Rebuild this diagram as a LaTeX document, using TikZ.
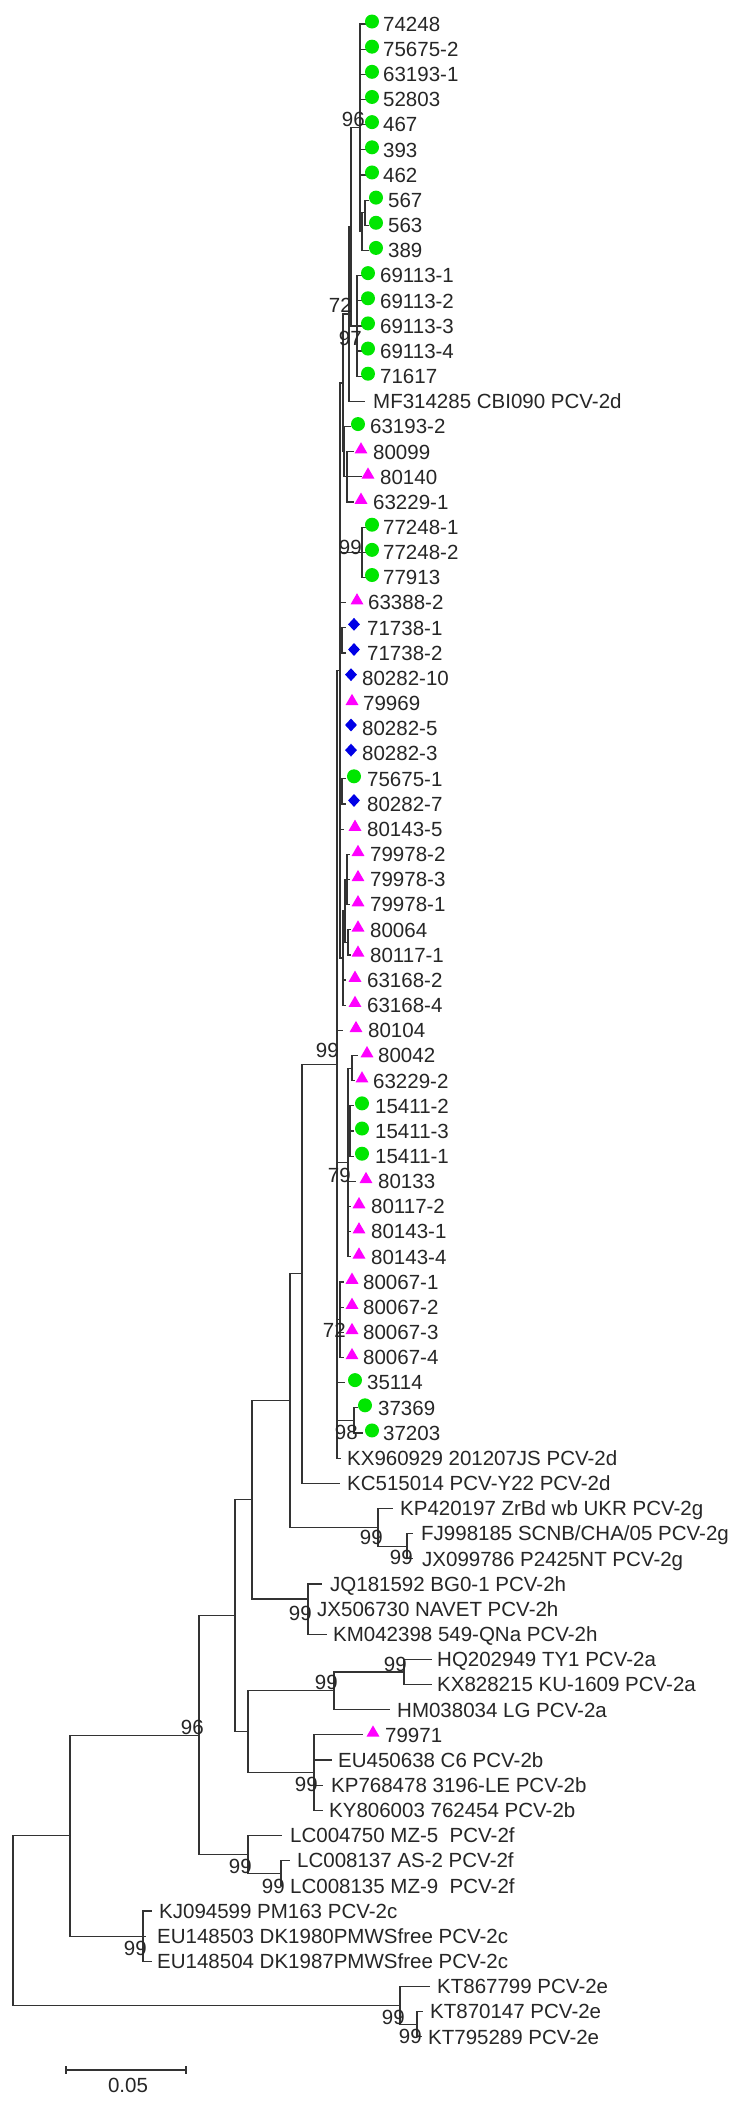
\documentclass[tikz,border=0pt]{standalone}
\usepackage{fontspec}
\setmainfont{Liberation Sans}
\usetikzlibrary{shapes.geometric}
\definecolor{leafgreen}{RGB}{0,230,0}
\definecolor{leafpink}{RGB}{255,0,255}
\definecolor{leafblue}{RGB}{0,0,230}
\tikzset{
  br/.style={line width=1.2pt, black!80},
  lbl/.style={anchor=base west, inner sep=0pt, yshift=-7.3pt, text=black!85},
  bs/.style={anchor=base east, inner sep=0pt, yshift=-7.3pt, text=black!85},
  dot/.style={circle, fill=leafgreen, inner sep=0pt, minimum size=14pt, yshift=2.5pt},
  tri/.style={regular polygon, regular polygon sides=3, fill=leafpink, inner sep=0pt, minimum size=15pt, yshift=2pt},
  dia/.style={diamond, fill=leafblue, inner sep=0pt, minimum width=12pt, minimum height=13pt, yshift=3.5pt}
}
\begin{document}
\begin{tikzpicture}[x=1pt, y=-25.16pt, font=\fontsize{20.5}{24}\selectfont]
 \path[fill=white] (0,-0.954) rectangle (741,82.95);
 \useasboundingbox (0,-0.954) rectangle (741,82.95);

 % inner nodes
 \coordinate (n96) at (360,4.125);
 \coordinate (s1) at (365,7.5);
 \coordinate (s2) at (362,8.25);
 \coordinate (n69) at (357,12);
 \coordinate (nP) at (351,8.06);
 \coordinate (nR) at (349,11.53);
 \coordinate (nU) at (347,18);
 \coordinate (nT) at (344,17);
 \coordinate (nS) at (343,14.27);
 \coordinate (n77) at (362,21);
 \coordinate (n717) at (342,24.5);
 \coordinate (n756) at (342,30.5);
 \coordinate (n799) at (347,34);
 \coordinate (n800) at (348,36.5);
 \coordinate (nW) at (345,35.25);
 \coordinate (nV) at (343,37.125);
 \coordinate (nD1) at (340,25.7);
 \coordinate (nF1) at (352,41.5);
 \coordinate (nF2) at (350,44);
 \coordinate (nE) at (348,45.25);
 \coordinate (nH) at (340,51.5);
 \coordinate (n37) at (354,55.5);
 \coordinate (nD0) at (337,41.35);
 \coordinate (nA) at (302,49.67);
 \coordinate (n2gi) at (407,60.5);
 \coordinate (n2g) at (378,59.75);
 \coordinate (nB) at (290,54.71);
 \coordinate (n2h) at (308,62.6);
 \coordinate (nC) at (252,58.66);
 \coordinate (n2ai) at (404,65.5);
 \coordinate (n2a) at (334,66.25);
 \coordinate (n2b) at (314,69.5);
 \coordinate (nAB) at (248,67.875);
 \coordinate (nG) at (235,63.27);
 \coordinate (n2fi) at (281,73.5);
 \coordinate (n2f) at (248,72.75);
 \coordinate (n96b) at (199,68.01);
 \coordinate (n2c) at (143,76);
 \coordinate (n70) at (70,72);
 \coordinate (n2ei) at (417,79.5);
 \coordinate (n2e) at (400,78.75);
 \coordinate (root) at (13,75.4);

 % inner branches
 \draw[br] (n96) |- (s2); \draw[br] (s2) |- (s1);
 \draw[br] (nP) |- (n96); \draw[br] (nP) |- (n69);
 \draw[br] (nR) |- (nP);
 \draw[br] (nS) |- (nR); \draw[br] (nS) |- (nT); \draw[br] (nT) |- (nU);
 \draw[br] (nD1) |- (nS); \draw[br] (nD1) |- (n77); \draw[br] (nD1) |- (n717);
 \draw[br] (nD1) |- (n756); \draw[br] (nD1) |- (nV);
 \draw[br] (nV) |- (nW); \draw[br] (nW) |- (n799); \draw[br] (nW) |- (n800);
 \draw[br] (nD0) |- (nD1); \draw[br] (nD0) |- (nE); \draw[br] (nD0) |- (nH); \draw[br] (nD0) |- (n37);
 \draw[br] (nE) |- (nF1); \draw[br] (nE) |- (nF2);
 \draw[br] (nA) |- (nD0); \draw[br] (nB) |- (nA); \draw[br] (nB) |- (n2g); \draw[br] (n2g) |- (n2gi);
 \draw[br] (nC) |- (nB); \draw[br] (nC) |- (n2h);
 \draw[br] (nG) |- (nC); \draw[br] (nG) |- (nAB);
 \draw[br] (nAB) |- (n2a); \draw[br] (nAB) |- (n2b); \draw[br] (n2a) |- (n2ai);
 \draw[br] (n96b) |- (nG); \draw[br] (n96b) |- (n2f); \draw[br] (n2f) |- (n2fi);
 \draw[br] (n70) |- (n96b); \draw[br] (n70) |- (n2c);
 \draw[br] (root) |- (n70); \draw[br] (root) |- (n2e); \draw[br] (n2e) |- (n2ei);

 % leaves
 \coordinate (t0) at (366,0); \draw[br] (n96) |- (t0); \node[dot] (m0) at (372,0) {}; \node[lbl] (l0) at (383,0) {74248};
 \coordinate (t1) at (366,1); \draw[br] (n96) |- (t1); \node[dot] (m1) at (372,1) {}; \node[lbl] (l1) at (383,1) {75675-2};
 \coordinate (t2) at (366,2); \draw[br] (n96) |- (t2); \node[dot] (m2) at (372,2) {}; \node[lbl] (l2) at (383,2) {63193-1};
 \coordinate (t3) at (366,3); \draw[br] (n96) |- (t3); \node[dot] (m3) at (372,3) {}; \node[lbl] (l3) at (383,3) {52803};
 \coordinate (t4) at (366,4); \draw[br] (n96) |- (t4); \node[dot] (m4) at (372,4) {}; \node[lbl] (l4) at (383,4) {467};
 \coordinate (t5) at (366,5); \draw[br] (n96) |- (t5); \node[dot] (m5) at (372,5) {}; \node[lbl] (l5) at (383,5) {393};
 \coordinate (t6) at (366,6); \draw[br] (n96) |- (t6); \node[dot] (m6) at (372,6) {}; \node[lbl] (l6) at (383,6) {462};
 \coordinate (t7) at (369,7); \draw[br] (s1) |- (t7); \node[dot] (m7) at (376,7) {}; \node[lbl] (l7) at (388,7) {567};
 \coordinate (t8) at (369,8); \draw[br] (s1) |- (t8); \node[dot] (m8) at (376,8) {}; \node[lbl] (l8) at (388,8) {563};
 \coordinate (t9) at (369,9); \draw[br] (s2) |- (t9); \node[dot] (m9) at (376,9) {}; \node[lbl] (l9) at (388,9) {389};
 \coordinate (t10) at (362,10); \draw[br] (n69) |- (t10); \node[dot] (m10) at (368,10) {}; \node[lbl] (l10) at (380,10) {69113-1};
 \coordinate (t11) at (362,11); \draw[br] (n69) |- (t11); \node[dot] (m11) at (368,11) {}; \node[lbl] (l11) at (380,11) {69113-2};
 \coordinate (t12) at (362,12); \draw[br] (n69) |- (t12); \node[dot] (m12) at (368,12) {}; \node[lbl] (l12) at (380,12) {69113-3};
 \coordinate (t13) at (362,13); \draw[br] (n69) |- (t13); \node[dot] (m13) at (368,13) {}; \node[lbl] (l13) at (380,13) {69113-4};
 \coordinate (t14) at (362,14); \draw[br] (n69) |- (t14); \node[dot] (m14) at (368,14) {}; \node[lbl] (l14) at (380,14) {71617};
 \coordinate (t15) at (365,15); \draw[br] (nR) |- (t15); \node[lbl] (l15) at (373,15) {MF314285 CBI090 PCV-2d};
 \coordinate (t16) at (351,16); \draw[br] (nT) |- (t16); \node[dot] (m16) at (358,16) {}; \node[lbl] (l16) at (370,16) {63193-2};
 \coordinate (t17) at (354,17); \draw[br] (nU) |- (t17); \node[tri] (m17) at (361,17) {}; \node[lbl] (l17) at (373,17) {80099};
 \coordinate (t18) at (362,18); \draw[br] (nU) |- (t18); \node[tri] (m18) at (368,18) {}; \node[lbl] (l18) at (380,18) {80140};
 \coordinate (t19) at (354,19); \draw[br] (nU) |- (t19); \node[tri] (m19) at (361,19) {}; \node[lbl] (l19) at (373,19) {63229-1};
 \coordinate (t20) at (366,20); \draw[br] (n77) |- (t20); \node[dot] (m20) at (372,20) {}; \node[lbl] (l20) at (383,20) {77248-1};
 \coordinate (t21) at (366,21); \draw[br] (n77) |- (t21); \node[dot] (m21) at (372,21) {}; \node[lbl] (l21) at (383,21) {77248-2};
 \coordinate (t22) at (366,22); \draw[br] (n77) |- (t22); \node[dot] (m22) at (372,22) {}; \node[lbl] (l22) at (383,22) {77913};
 \coordinate (t23) at (346,23); \draw[br] (nD1) |- (t23); \node[tri] (m23) at (357,23) {}; \node[lbl] (l23) at (368,23) {63388-2};
 \coordinate (t24) at (346,24); \draw[br] (n717) |- (t24); \node[dia] (m24) at (354,24) {}; \node[lbl] (l24) at (367,24) {71738-1};
 \coordinate (t25) at (346,25); \draw[br] (n717) |- (t25); \node[dia] (m25) at (354,25) {}; \node[lbl] (l25) at (367,25) {71738-2};
 \node[dia] (m26) at (351,26) {}; \node[lbl] (l26) at (362,26) {80282-10};
 \node[tri] (m27) at (352,27) {}; \node[lbl] (l27) at (363,27) {79969};
 \node[dia] (m28) at (351,28) {}; \node[lbl] (l28) at (362,28) {80282-5};
 \node[dia] (m29) at (351,29) {}; \node[lbl] (l29) at (362,29) {80282-3};
 \coordinate (t30) at (346,30); \draw[br] (n756) |- (t30); \node[dot] (m30) at (354,30) {}; \node[lbl] (l30) at (367,30) {75675-1};
 \coordinate (t31) at (346,31); \draw[br] (n756) |- (t31); \node[dia] (m31) at (354,31) {}; \node[lbl] (l31) at (367,31) {80282-7};
 \coordinate (t32) at (344,32); \draw[br] (nD1) |- (t32); \node[tri] (m32) at (355,32) {}; \node[lbl] (l32) at (367,32) {80143-5};
 \coordinate (t33) at (350,33); \draw[br] (n799) |- (t33); \node[tri] (m33) at (358,33) {}; \node[lbl] (l33) at (370,33) {79978-2};
 \coordinate (t34) at (350,34); \draw[br] (n799) |- (t34); \node[tri] (m34) at (358,34) {}; \node[lbl] (l34) at (370,34) {79978-3};
 \coordinate (t35) at (350,35); \draw[br] (n799) |- (t35); \node[tri] (m35) at (358,35) {}; \node[lbl] (l35) at (370,35) {79978-1};
 \coordinate (t36) at (351,36); \draw[br] (n800) |- (t36); \node[tri] (m36) at (358,36) {}; \node[lbl] (l36) at (370,36) {80064};
 \coordinate (t37) at (351,37); \draw[br] (n800) |- (t37); \node[tri] (m37) at (358,37) {}; \node[lbl] (l37) at (370,37) {80117-1};
 \coordinate (t38) at (346,38); \draw[br] (nV) |- (t38); \node[tri] (m38) at (355,38) {}; \node[lbl] (l38) at (367,38) {63168-2};
 \coordinate (t39) at (346,39); \draw[br] (nV) |- (t39); \node[tri] (m39) at (355,39) {}; \node[lbl] (l39) at (367,39) {63168-4};
 \coordinate (t40) at (343,40); \draw[br] (nD0) |- (t40); \node[tri] (m40) at (356,40) {}; \node[lbl] (l40) at (368,40) {80104};
 \coordinate (t41) at (358,41); \draw[br] (nF1) |- (t41); \node[tri] (m41) at (367,41) {}; \node[lbl] (l41) at (378,41) {80042};
 \coordinate (t42) at (355,42); \draw[br] (nF1) |- (t42); \node[tri] (m42) at (362,42) {}; \node[lbl] (l42) at (373,42) {63229-2};
 \coordinate (t43) at (354,43); \draw[br] (nF2) |- (t43); \node[dot] (m43) at (362,43) {}; \node[lbl] (l43) at (375,43) {15411-2};
 \coordinate (t44) at (354,44); \draw[br] (nF2) |- (t44); \node[dot] (m44) at (362,44) {}; \node[lbl] (l44) at (375,44) {15411-3};
 \coordinate (t45) at (354,45); \draw[br] (nF2) |- (t45); \node[dot] (m45) at (362,45) {}; \node[lbl] (l45) at (375,45) {15411-1};
 \coordinate (t46) at (356,46); \draw[br] (nE) |- (t46); \node[tri] (m46) at (366,46) {}; \node[lbl] (l46) at (378,46) {80133};
 \coordinate (t47) at (351,47); \draw[br] (nE) |- (t47); \node[tri] (m47) at (359,47) {}; \node[lbl] (l47) at (371,47) {80117-2};
 \coordinate (t48) at (351,48); \draw[br] (nE) |- (t48); \node[tri] (m48) at (359,48) {}; \node[lbl] (l48) at (371,48) {80143-1};
 \coordinate (t49) at (351,49); \draw[br] (nE) |- (t49); \node[tri] (m49) at (359,49) {}; \node[lbl] (l49) at (371,49) {80143-4};
 \coordinate (t50) at (344,50); \draw[br] (nH) |- (t50); \node[tri] (m50) at (352,50) {}; \node[lbl] (l50) at (363,50) {80067-1};
 \coordinate (t51) at (344,51); \draw[br] (nH) |- (t51); \node[tri] (m51) at (352,51) {}; \node[lbl] (l51) at (363,51) {80067-2};
 \coordinate (t52) at (344,52); \draw[br] (nH) |- (t52); \node[tri] (m52) at (352,52) {}; \node[lbl] (l52) at (363,52) {80067-3};
 \coordinate (t53) at (344,53); \draw[br] (nH) |- (t53); \node[tri] (m53) at (352,53) {}; \node[lbl] (l53) at (363,53) {80067-4};
 \coordinate (t54) at (345,54); \draw[br] (nD0) |- (t54); \node[dot] (m54) at (355,54) {}; \node[lbl] (l54) at (367,54) {35114};
 \coordinate (t55) at (358,55); \draw[br] (n37) |- (t55); \node[dot] (m55) at (365,55) {}; \node[lbl] (l55) at (378,55) {37369};
 \coordinate (t56) at (363,56); \draw[br] (n37) |- (t56); \node[dot] (m56) at (372,56) {}; \node[lbl] (l56) at (383,56) {37203};
 \coordinate (t57) at (341,57); \draw[br] (nD0) |- (t57); \node[lbl] (l57) at (347,57) {KX960929 201207JS PCV-2d};
 \coordinate (t58) at (340,58); \draw[br] (nA) |- (t58); \node[lbl] (l58) at (347,58) {KC515014 PCV-Y22 PCV-2d};
 \coordinate (t59) at (393,59); \draw[br] (n2g) |- (t59); \node[lbl] (l59) at (400,59) {KP420197 ZrBd wb UKR PCV-2g};
 \coordinate (t60) at (413,60); \draw[br] (n2gi) |- (t60); \node[lbl] (l60) at (421,60) {FJ998185 SCNB/CHA/05 PCV-2g};
 \coordinate (t61) at (413,61); \draw[br] (n2gi) |- (t61); \node[lbl] (l61) at (422,61) {JX099786 P2425NT PCV-2g};
 \coordinate (t62) at (322,62); \draw[br] (n2h) |- (t62); \node[lbl] (l62) at (330,62) {JQ181592 BG0-1 PCV-2h};
 \coordinate (t63) at (310,63); \draw[br] (n2h) |- (t63); \node[lbl] (l63) at (317,63) {JX506730 NAVET PCV-2h};
 \coordinate (t64) at (327,64); \draw[br] (n2h) |- (t64); \node[lbl] (l64) at (333,64) {KM042398 549-QNa PCV-2h};
 \coordinate (t65) at (432,65); \draw[br] (n2ai) |- (t65); \node[lbl] (l65) at (437,65) {HQ202949 TY1 PCV-2a};
 \coordinate (t66) at (432,66); \draw[br] (n2ai) |- (t66); \node[lbl] (l66) at (437,66) {KX828215 KU-1609 PCV-2a};
 \coordinate (t67) at (390,67); \draw[br] (n2a) |- (t67); \node[lbl] (l67) at (397,67) {HM038034 LG PCV-2a};
 \coordinate (t68) at (363,68); \draw[br] (n2b) |- (t68); \node[tri] (m68) at (373,68) {}; \node[lbl] (l68) at (385,68) {79971};
 \coordinate (t69) at (332,69); \draw[br] (n2b) |- (t69); \node[lbl] (l69) at (338,69) {EU450638 C6 PCV-2b};
 \coordinate (t70) at (323,70); \draw[br] (n2b) |- (t70); \node[lbl] (l70) at (331,70) {KP768478 3196-LE PCV-2b};
 \coordinate (t71) at (323,71); \draw[br] (n2b) |- (t71); \node[lbl] (l71) at (329,71) {KY806003 762454 PCV-2b};
 \coordinate (t72) at (282,72); \draw[br] (n2f) |- (t72); \node[lbl] (l72) at (290,72) {LC004750 MZ-5\ \ PCV-2f};
 \coordinate (t73) at (290,73); \draw[br] (n2fi) |- (t73); \node[lbl] (l73) at (297,73) {LC008137 AS-2 PCV-2f};
 \coordinate (t74) at (283,74); \draw[br] (n2fi) |- (t74); \node[lbl] (l74) at (290,74) {LC008135 MZ-9\ \ PCV-2f};
 \coordinate (t75) at (152,75); \draw[br] (n2c) |- (t75); \node[lbl] (l75) at (159,75) {KJ094599 PM163 PCV-2c};
 \coordinate (t76) at (146,76); \draw[br] (n2c) |- (t76); \node[lbl] (l76) at (157,76) {EU148503 DK1980PMWSfree PCV-2c};
 \coordinate (t77) at (152,77); \draw[br] (n2c) |- (t77); \node[lbl] (l77) at (157,77) {EU148504 DK1987PMWSfree PCV-2c};
 \coordinate (t78) at (430,78); \draw[br] (n2e) |- (t78); \node[lbl] (l78) at (437,78) {KT867799 PCV-2e};
 \coordinate (t79) at (423,79); \draw[br] (n2ei) |- (t79); \node[lbl] (l79) at (430,79) {KT870147 PCV-2e};
 \coordinate (t80) at (422,80); \draw[br] (n2ei) |- (t80); \node[lbl] (l80) at (428,80) {KT795289 PCV-2e};

 % bootstrap values
 \node[bs] (b1) at (365,3.78) {96};
 \node[bs] (b2) at (352,11.17) {72};
 \node[bs] (b3) at (362,12.5) {97};
 \node[bs] (b4) at (362,20.79) {99};
 \node[bs] (b5) at (339,40.78) {99};
 \node[bs] (b6) at (351,45.75) {79};
 \node[bs] (b7) at (346,51.91) {72};
 \node[bs] (b8) at (358,55.96) {98};
 \node[bs] (b9) at (383,60.14) {99};
 \node[bs] (b10) at (413,60.93) {99};
 \node[bs] (b11) at (312,63.16) {99};
 \node[bs] (b12) at (407,65.18) {99};
 \node[bs] (b13) at (338,65.9) {99};
 \node[bs] (b14) at (204,67.69) {96};
 \node[bs] (b15) at (318,69.95) {99};
 \node[bs] (b16) at (252,73.21) {99};
 \node[bs] (b17) at (285,74.01) {99};
 \node[bs] (b18) at (147,76.47) {99};
 \node[bs] (b19) at (405,79.21) {99};
 \node[bs] (b20) at (422,79.97) {99};

 % scale bar
 \coordinate (sb1) at (66,81.32);
 \coordinate (sb2) at (186,81.32);
 \draw[br] (sb1) -- (sb2);
 \draw[br] ([yshift=4pt]sb1) -- ([yshift=-4pt]sb1);
 \draw[br] ([yshift=4pt]sb2) -- ([yshift=-4pt]sb2);
 \node[lbl, anchor=base] (sbl) at (128,81.92) {0.05};
\end{tikzpicture}
\end{document}
